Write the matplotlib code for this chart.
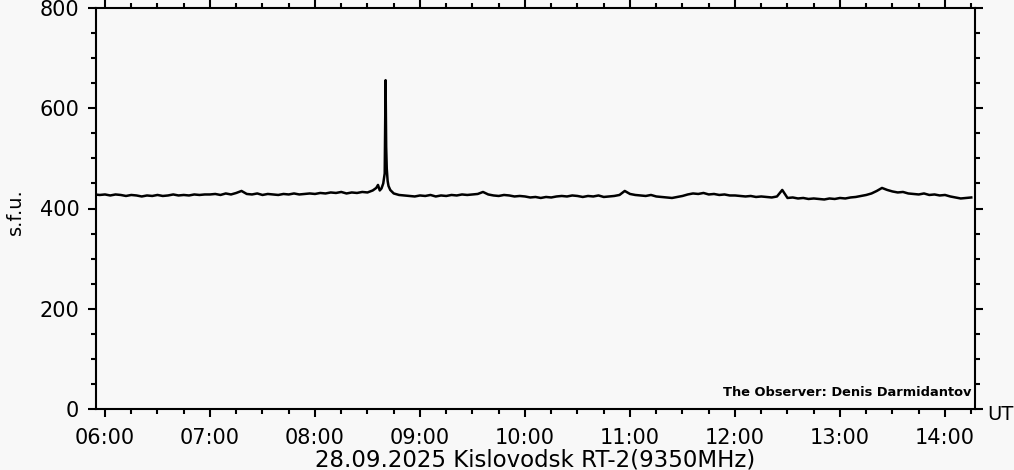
import numpy as np
import matplotlib
matplotlib.use('Agg')
import matplotlib.pyplot as plt
from matplotlib.ticker import MultipleLocator

# quiet-sun flux (s.f.u.), sampled every 3 minutes, one list per hour
flux_05 = [428, 427]                      # 05:54, 05:57
flux_06 = [428, 426, 428, 427, 425, 427, 426, 424, 426, 425,
           427, 425, 426, 428, 426, 427, 426, 428, 427, 428]
flux_07 = [428, 429, 427, 430, 428, 431, 435, 429, 428, 430,
           427, 429, 428, 427, 429, 428, 430, 428, 429, 430]
flux_08 = [429, 431, 430, 432, 431, 433, 430, 432, 431, 433,
           432]                           # 08:00 .. 08:30
flux_09 = [426, 425, 427, 424, 426, 425, 427, 426, 428, 427,
           428, 429, 433, 428, 426, 425, 427, 426, 424, 425]
flux_10 = [424, 422, 423, 421, 423, 422, 424, 425, 424, 426,
           425, 423, 425, 424, 426, 423, 424, 425, 427, 435]
flux_11 = [429, 427, 426, 425, 427, 424, 423, 422, 421, 423,
           425, 428, 430, 429, 431, 428, 429, 427, 428, 426]
flux_12 = [426, 425, 424, 425, 423, 424, 423, 422, 424, 437,
           421, 422, 420, 421, 419, 420, 419, 418, 420, 419]
flux_13 = [421, 420, 422, 423, 425, 427, 430, 435, 441, 437,
           434, 432, 433, 430, 429, 428, 430, 427, 428, 426]
flux_14 = [427, 424, 422, 420, 421, 422]  # 14:00 .. 14:15

# the burst around 08:40
burst_times = ['08:33:00', '08:35:00', '08:36:00', '08:37:00', '08:38:00',
               '08:39:00', '08:39:50', '08:40:20', '08:40:40', '08:41:00',
               '08:41:30', '08:42:00', '08:43:00', '08:45:00', '08:48:00',
               '08:51:00', '08:54:00', '08:57:00']
burst_flux = [436, 441, 447, 436, 440, 450, 470, 656, 523, 480,
              455, 445, 437, 430, 427, 426, 425, 424]

tick_labels = ['06:00', '07:00', '08:00', '09:00', '10:00',
               '11:00', '12:00', '13:00', '14:00']


def to_hours(s):
    parts = [int(p) for p in s.split(':')]
    while len(parts) < 3:
        parts.append(0)
    return parts[0] + parts[1] / 60 + parts[2] / 3600


def hourly(start, values):
    # 3 minute sampling grid starting at 'start'
    t0 = to_hours(start)
    return [t0 + i * 3 / 60 for i in range(len(values))], list(values)


segments = [('05:54', flux_05), ('06:00', flux_06), ('07:00', flux_07),
            ('08:00', flux_08), ('09:00', flux_09), ('10:00', flux_10),
            ('11:00', flux_11), ('12:00', flux_12), ('13:00', flux_13),
            ('14:00', flux_14)]

t_all, f_all = [], []
for start, vals in segments:
    t, f = hourly(start, vals)
    t_all += t
    f_all += f
t_all += [to_hours(s) for s in burst_times]
f_all += burst_flux
order = np.argsort(t_all)
t_all = np.array(t_all)[order]
f_all = np.array(f_all)[order]

bg = '#f8f8f8'
fig = plt.figure(figsize=(10.14, 4.70), dpi=100, facecolor=bg)
ax = fig.add_axes([96 / 1014, 1 - 409 / 470, 879 / 1014, 401 / 470])
ax.set_facecolor(bg)

ax.plot(t_all, f_all, color='black', lw=1.8)

ax.set_xlim(6 - 9 / 105, 6 + 870 / 105)
ax.set_ylim(0, 800)

ax.set_xticks([6 + i for i in range(len(tick_labels))])
ax.set_xticklabels(tick_labels)
ax.xaxis.set_minor_locator(MultipleLocator(0.25))
ax.yaxis.set_major_locator(MultipleLocator(200))
ax.yaxis.set_minor_locator(MultipleLocator(50))

for s in ax.spines.values():
    s.set_linewidth(1.5)
ax.tick_params(which='both', direction='out', top=True, right=True,
               width=1.5, labelsize=15)
ax.tick_params(which='major', length=6)
ax.tick_params(which='minor', length=3.5)
ax.tick_params(axis='x', pad=8)
ax.tick_params(axis='y', pad=6)

fig.text(15 / 1014, 1 - 212 / 470, 's.f.u.', rotation=90, fontsize=14,
         ha='center', va='center')
fig.text(987 / 1014, 1 - 415 / 470, 'UT', fontsize=14, ha='left', va='center')
fig.text(535 / 1014, 1 - 460 / 470, '28.09.2025 Kislovodsk RT-2(9350MHz)',
         fontsize=16.5, ha='center', va='center')
ax.text(0.996, 0.025, 'The Observer: Denis Darmidantov', transform=ax.transAxes,
        fontsize=9.4, fontweight='bold', ha='right', va='bottom')

fig.savefig('out.png', dpi=100, facecolor=bg)
